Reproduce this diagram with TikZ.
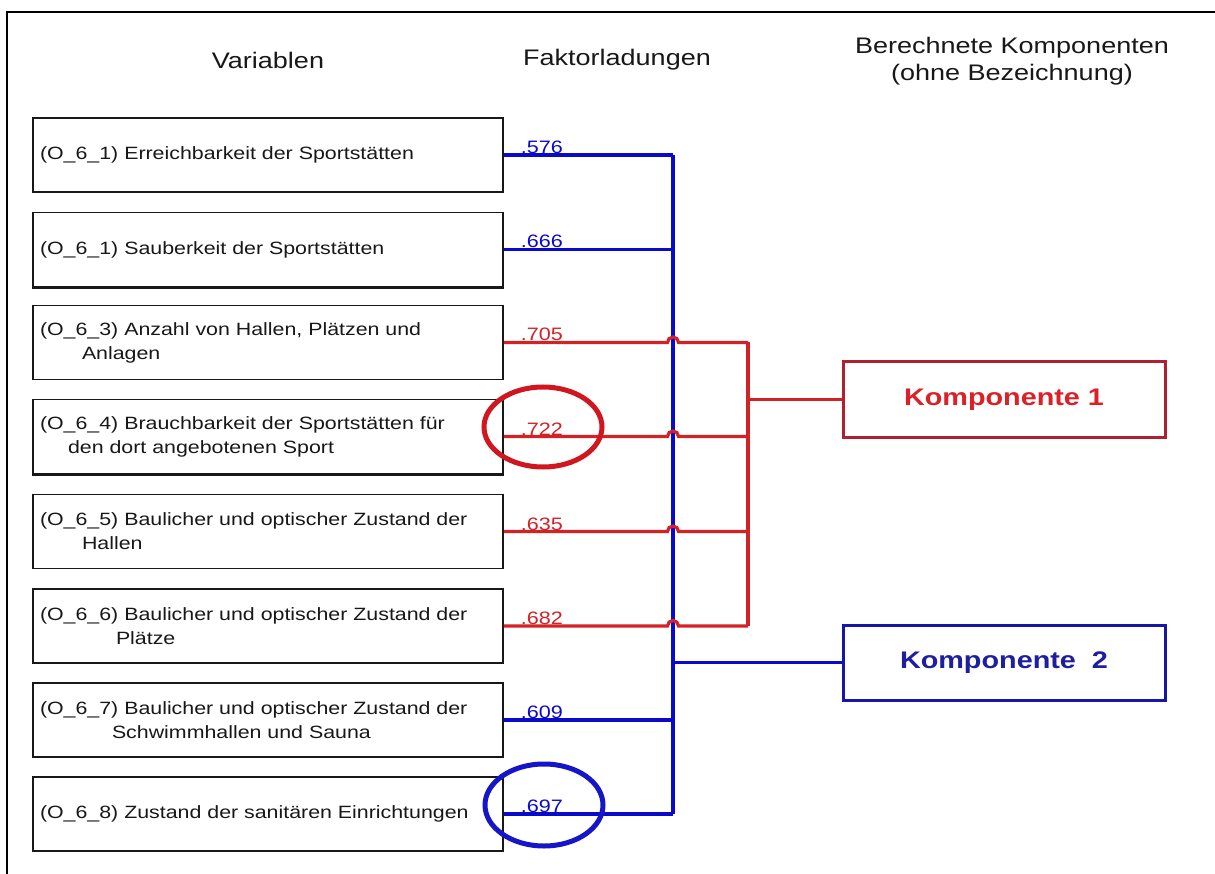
\documentclass[tikz,border=0pt]{standalone}
\usepackage{fontspec}
\setmainfont{Liberation Sans}[FakeStretch=1.2]
\usetikzlibrary{calc}
\definecolor{lineblue}{RGB}{10,10,205}
\definecolor{linered}{RGB}{210,34,38}
\definecolor{compred}{RGB}{176,32,48}
\definecolor{comptext}{RGB}{220,32,40}
\definecolor{compblue}{RGB}{22,22,170}
\definecolor{comptextb}{RGB}{30,30,160}
\definecolor{ink}{RGB}{24,24,24}
\begin{document}
\begin{tikzpicture}[x=1pt,y=1pt,
  varbox/.style={draw=ink, line width=1.5pt, minimum width=470pt, minimum height=74pt,
    text width=456pt, inner sep=7pt, align=left, text=ink,
    font=\fontsize{17.8}{24}\selectfont},
  header/.style={text=ink, align=center, font=\fontsize{22.5}{27}\selectfont},
  loadb/.style={anchor=base west, text=lineblue, inner sep=0pt, font=\fontsize{18}{20}\selectfont},
  loadr/.style={anchor=base west, text=linered, inner sep=0pt, font=\fontsize{18}{20}\selectfont},
  bline/.style={draw=lineblue, line width=3.2pt},
  rline/.style={draw=linered, line width=3.2pt},
  compbox/.style={line width=3pt, minimum width=322pt, minimum height=75pt,
    font=\bfseries\fontsize{24}{28}\selectfont},
]
\useasboundingbox (0,0) rectangle (1215,-874);
\fill[white] (0,0) rectangle (1215,-874);

% outer frame (top and left edges)
\draw[black, line width=2.2pt] (7,-880) -- (7,-12) -- (1220,-12);

% column headings
\node[header] (hvar) at (268,-60) {Variablen};
\node[header] (hfak) at (617,-60) {Faktorladungen};
\node[header] (hkom) at (1012,-61) {Berechnete Komponenten\\(ohne Bezeichnung)};

% variable boxes
\node[varbox] (v1) at (268,-155)   {(O\_6\_1) Erreichbarkeit der Sportstätten};
\node[varbox] (v2) at (268,-249.5) {(O\_6\_1) Sauberkeit der Sportstätten};
\node[varbox] (v3) at (268,-342.5) {(O\_6\_3) Anzahl von Hallen, Plätzen und\\\hspace*{42pt}Anlagen};
\node[varbox] (v4) at (268,-436.5) {(O\_6\_4) Brauchbarkeit der Sportstätten für\\\hspace*{28pt}den dort angebotenen Sport};
\node[varbox] (v5) at (268,-531.5) {(O\_6\_5) Baulicher und optischer Zustand der\\\hspace*{42pt}Hallen};
\node[varbox] (v6) at (268,-626)   {(O\_6\_6) Baulicher und optischer Zustand der\\\hspace*{76pt}Plätze};
\node[varbox] (v7) at (268,-720)   {(O\_6\_7) Baulicher und optischer Zustand der\\\hspace*{72pt}Schwimmhallen und Sauna};
\node[varbox] (v8) at (268,-814)   {(O\_6\_8) Zustand der sanitären Einrichtungen};

% heavier lower edges
\draw[ink, line width=3.4pt] (v2.south west) -- (v2.south east);
\draw[ink, line width=3.4pt] (v4.south west) -- (v4.south east);

% component boxes
\node[compbox, draw=compred, text=comptext] (k1) at (1004,-399.5) {Komponente 1};
\node[compbox, draw=compblue, text=comptextb] (k2) at (1004,-662.5) {Komponente\ \ 2};

% bus lines
\coordinate (busB) at (673,0);
\coordinate (busR) at (748,0);

% component 2: blue connectors
\foreach \v in {v1,v2,v7,v8}
  \draw[bline] (\v.east) -- (\v.east -| busB);
\draw[bline] (v1.east -| busB) -- (v8.east -| busB);
\draw[bline] (k2.west -| busB) -- (k2.west);

% component 1: red connectors hopping over the blue bus
\foreach \v in {v3,v4,v5,v6}
  \draw[rline] (\v.east) -- ($(\v.east -| busB)+(-5.5,0)$)
    arc[start angle=180, end angle=0, radius=5.5pt] -- (\v.east -| busR);
\draw[rline] (v3.east -| busR) -- (v6.east -| busR);
\draw[rline] (k1.west -| busR) -- (k1.west);

% factor loadings
\node[loadb] (l1) at ($(v1.east)+(17,1.5)$) {.576};
\node[loadb] (l2) at ($(v2.east)+(17,1.5)$) {.666};
\node[loadr] (l3) at ($(v3.east)+(17,1.5)$) {.705};
\node[loadr] (l4) at ($(v4.east)+(17,1.5)$) {.722};
\node[loadr] (l5) at ($(v5.east)+(17,1.5)$) {.635};
\node[loadr] (l6) at ($(v6.east)+(17,1.5)$) {.682};
\node[loadb] (l7) at ($(v7.east)+(17,1.5)$) {.609};
\node[loadb] (l8) at ($(v8.east)+(17,1.5)$) {.697};

% highlighted loadings
\draw[draw={rgb,255:red,208;green,22;blue,30}, line width=5pt] (543,-427) ellipse [x radius=59, y radius=40];
\draw[draw={rgb,255:red,22;green,22;blue,200}, line width=5pt] (544,-805) ellipse [x radius=59, y radius=41];
\end{tikzpicture}
\end{document}
